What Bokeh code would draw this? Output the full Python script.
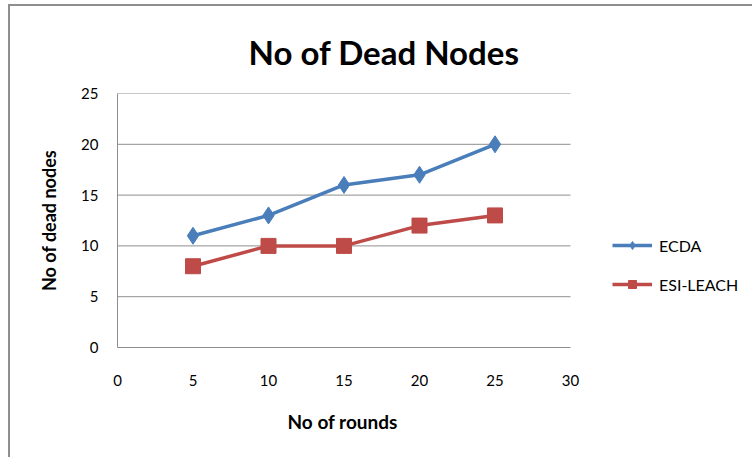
from bokeh.plotting import figure
from bokeh.models import Legend, LegendItem, FixedTicker, Title
from bokeh.embed import file_html
from bokeh.resources import INLINE

# Dead nodes per round for the two protocols
rounds = [5, 10, 15, 20, 25]
ecda = [11, 13, 16, 17, 20]
esi_leach = [8, 10, 10, 12, 13]
x_ticks = [0, 5, 10, 15, 20, 25, 30]
y_ticks = [0, 5, 10, 15, 20, 25]

FONT = "Lato"
BLUE = "#4a7ebb"
RED = "#be4b48"
GRAY = "#8e8e8e"

# canvas and plotting-area geometry (pixels)
W, H = 744, 453
LEFT, TOP, BOTTOM = 107, 87, 112
PLOT_W = 453                       # width taken by the 0..30 axis
frame_w = W - LEFT                 # frame runs to the right edge so the legend fits inside
x_end = x_ticks[-1] * frame_w / PLOT_W

p = figure(width=W, height=H, x_range=(x_ticks[0], x_end), y_range=(y_ticks[0], y_ticks[-1]),
           output_backend="svg", toolbar_location=None,
           min_border_left=LEFT, min_border_right=0,
           min_border_top=TOP, min_border_bottom=BOTTOM)
p.margin = (4, 0, 0, 8)
p.styles = {"border-left": f"2px solid {GRAY}", "border-top": f"2px solid {GRAY}"}

p.background_fill_color = "white"
p.border_fill_color = "white"
p.outline_line_color = None

# chart title
p.title.text = "No of Dead Nodes"
p.title.align = "left"
p.title.offset = 131
p.title.text_font = FONT
p.title.text_font_size = "33px"
p.title.text_font_style = "bold"
p.title.text_color = "black"
p.title.standoff = 43

# axes
for ax in (p.xaxis[0], p.yaxis[0]):
    ax.major_tick_line_color = None
    ax.minor_tick_line_color = None
    ax.axis_line_color = GRAY
    ax.axis_line_width = 1
    ax.major_label_text_font = FONT
    ax.major_label_text_font_size = "15px"
    ax.major_label_text_color = "black"
    ax.axis_label_text_font = FONT
    ax.axis_label_text_font_size = "18px"
    ax.axis_label_text_font_style = "bold"
    ax.axis_label_text_color = "black"

p.xaxis.ticker = FixedTicker(ticks=x_ticks)
p.yaxis.ticker = FixedTicker(ticks=y_ticks)
p.xaxis.bounds = (x_ticks[0], x_ticks[-1])
p.yaxis.axis_label = "No of dead nodes"
p.xaxis.major_label_standoff = 21
p.yaxis.major_label_standoff = 13
p.yaxis.axis_label_standoff = 18

# x-axis caption, centred under the 0..30 span
x_caption = Title(text="No of rounds", align="left", offset=170,
                  text_font=FONT, text_font_size="19px", text_font_style="bold",
                  text_color="black", standoff=39)
p.add_layout(x_caption, "below")

# horizontal gridlines only across the 0..30 span
p.xgrid.grid_line_color = None
p.ygrid.grid_line_color = None
p.segment(x0=x_ticks[0], x1=x_ticks[-1], y0=y_ticks[1:], y1=y_ticks[1:],
          line_color=GRAY, line_width=1)

# series
l1 = p.line(rounds, ecda, line_color=BLUE, line_width=3.5)
m1 = p.scatter(rounds, ecda, marker="diamond", size=17, fill_color=BLUE, line_color=BLUE)
l2 = p.line(rounds, esi_leach, line_color=RED, line_width=3.5)
m2 = p.scatter(rounds, esi_leach, marker="square", size=15, fill_color=RED, line_color=RED)

legend = Legend(items=[LegendItem(label="ECDA", renderers=[l1, m1]),
                       LegendItem(label="ESI-LEACH", renderers=[l2, m2])],
                location=(495, 53), orientation="vertical")
legend.border_line_color = None
legend.background_fill_alpha = 0
legend.padding = 0
legend.margin = 0
legend.spacing = 19
legend.glyph_width = 40
legend.glyph_height = 20
legend.label_height = 20
legend.label_standoff = 7
legend.label_text_font = FONT
legend.label_text_font_size = "16px"
legend.label_text_color = "black"
p.add_layout(legend)

open("out.html", "w").write(file_html(p, INLINE))
